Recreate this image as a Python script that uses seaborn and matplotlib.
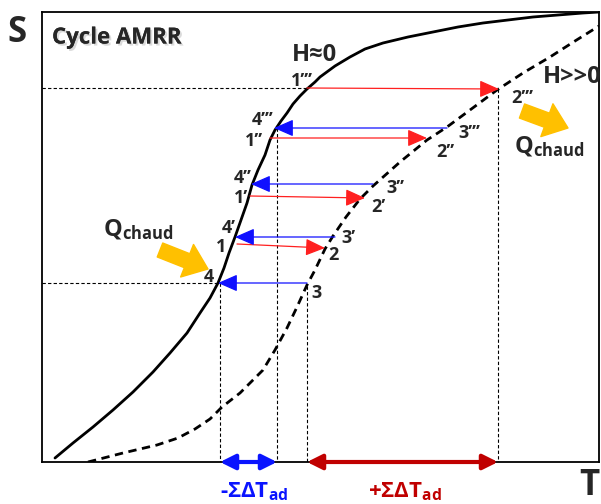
import numpy as np
import pandas as pd
import seaborn as sns
import matplotlib.pyplot as plt
import matplotlib.patheffects as pe

# S-T diagram of the AMRR cycle, coordinates (x=T, y=S, y grows downward)
h0_T = [55, 73, 93, 113, 133, 153, 170, 187, 200, 210, 218, 224, 229, 235, 241, 247, 252, 258,
        265, 270, 275, 281, 287, 293, 300, 307, 315, 320, 335, 350, 365, 383, 408, 433, 458, 483,
        508, 533, 558, 583, 599]
h0_S = [458, 443, 427, 410, 392, 372, 353, 333, 313, 298, 283, 268, 253, 237, 220, 203, 185, 170,
        155, 140, 130, 121, 113, 104, 96, 89, 82, 77, 66, 57, 49, 43, 37, 32, 27, 23,
        20, 17, 15, 13, 12]

hmax_T = [88, 123, 157, 178, 195, 210, 222, 240, 250, 263, 275, 287, 297, 307, 315, 325, 333, 346,
          360, 373, 400, 427, 447, 470, 497, 523, 550, 575, 599]
hmax_S = [462, 453, 445, 438, 429, 419, 407, 393, 383, 370, 350, 328, 307, 285, 270, 249, 236, 217,
          199, 186, 162, 140, 127, 110, 90, 73, 57, 41, 26]

# magnetisation steps 1 -> 2 (red) and demagnetisation steps 3 -> 4 (blue)
mag_T_start = [237, 250, 270, 307]
mag_T_end = [325, 365, 427, 499]
mag_S_start = [244, 196, 138, 88]
mag_S_end = [248, 198, 138, 89]

demag_T_start = [307, 335, 373, 447]
demag_T_end = [218, 235, 251, 274]
demag_S = [283, 237, 184, 128]

# guide lines
guide_T = [220, 277, 307, 498]
guide_S = [283, 128, 286, 89]
hguide_S = [88, 283]
hguide_T = [306, 220]

# sums of adiabatic temperature changes on the T axis
dT_neg = (220, 277)
dT_pos = (307, 498)

# heat flow arrows (tail, tip)
q_left = ((160, 250), (208, 269))
q_right = ((522, 111), (568, 128))

point_labels = {
    "1\u2019\u2019\u2019": (302, 81), "4\u2019\u2019\u2019": (263, 120), "1\u2019\u2019": (254, 141),
    "3\u2019\u2019\u2019": (469, 133), "2\u2019\u2019": (445, 152), "4\u2019\u2019": (243, 178),
    "3\u2019\u2019": (395, 188), "1\u2019": (241, 198), "2\u2019": (378, 207),
    "4\u2019": (229, 228), "3\u2019": (348, 238), "1": (221, 247), "2": (333, 255),
    "4": (209, 277), "3": (317, 293), "2\u2019\u2019\u2019": (522, 98),
}

sns.set_style("white")
plt.rcParams["font.family"] = ["Open Sans", "DejaVu Sans"]
plt.rcParams["mathtext.fontset"] = "custom"
plt.rcParams["mathtext.rm"] = "Open Sans:bold"
plt.rcParams["mathtext.bf"] = "Open Sans:bold"
plt.rcParams["mathtext.it"] = "Open Sans:bold:italic"
plt.rcParams["mathtext.sf"] = "Open Sans:bold"
plt.rcParams["mathtext.fallback"] = "stixsans"

fig = plt.figure(figsize=(6.01, 5.04), dpi=100)
ax = fig.add_axes([42 / 601, 42 / 504, 557 / 601, 450 / 504])
ax.set_xlim(42, 599)
ax.set_ylim(462, 12)
ax.set_xticks([])
ax.set_yticks([])
for sp in ax.spines.values():
    sp.set_color("black")
    sp.set_linewidth(1.3)

df_h0 = pd.DataFrame({"T": h0_T, "S": h0_S})
df_hmax = pd.DataFrame({"T": hmax_T, "S": hmax_S})
sns.lineplot(data=df_h0, x="T", y="S", sort=False, estimator=None, color="black", lw=2, ax=ax)
sns.lineplot(data=df_hmax, x="T", y="S", sort=False, estimator=None, color="black", lw=2, ax=ax)
ax.lines[-1].set_dashes((3, 2))
for ln in ax.lines:
    ln.set_solid_joinstyle("round")
    ln.set_dash_joinstyle("round")
ax.set_xlabel("")
ax.set_ylabel("")

# dashed guides
ax.vlines(guide_T, guide_S, 462, colors="black", linestyles=(0, (3, 2)), lw=0.8)
ax.hlines(hguide_S, 42, hguide_T, colors="black", linestyles=(0, (3, 2)), lw=0.8)

# cycle arrows
for x0, x1, y0, y1 in zip(mag_T_start, mag_T_end, mag_S_start, mag_S_end):
    ax.annotate("", xy=(x1, y1), xytext=(x0, y0),
                arrowprops=dict(arrowstyle="-|>,head_length=0.8,head_width=0.35", color="#ff2020",
                                lw=0.9, shrinkA=0, shrinkB=0, mutation_scale=15))
for x0, x1, y in zip(demag_T_start, demag_T_end, demag_S):
    ax.annotate("", xy=(x1, y), xytext=(x0, y),
                arrowprops=dict(arrowstyle="-|>,head_length=0.8,head_width=0.35", color="#1010ff",
                                lw=0.9, shrinkA=0, shrinkB=0, mutation_scale=15))

# bottom arrows
ax.annotate("", xy=(dT_neg[1], 462), xytext=(dT_neg[0], 462), annotation_clip=False,
            arrowprops=dict(arrowstyle="<|-|>,head_length=0.6,head_width=0.3", color="#0a14ff",
                            lw=3, shrinkA=0, shrinkB=0, mutation_scale=15))
ax.annotate("", xy=(dT_pos[1], 462), xytext=(dT_pos[0], 462), annotation_clip=False,
            arrowprops=dict(arrowstyle="<|-|>,head_length=0.6,head_width=0.3", color="#c00000",
                            lw=3, shrinkA=0, shrinkB=0, mutation_scale=15))

# heat arrows
for tail, tip in (q_left, q_right):
    ax.annotate("", xy=tip, xytext=tail,
                arrowprops=dict(arrowstyle="simple,head_length=0.9,head_width=1.4,tail_width=0.6",
                                color="#ffc000", shrinkA=0, shrinkB=0, mutation_scale=18))

for lab, (x, y) in point_labels.items():
    ax.text(x, y, lab, fontsize=13, fontweight="bold", ha="center", va="center")

ax.text(17, 33, "S", fontsize=25, fontweight="bold", ha="center", va="center")
ax.text(589, 486, "T", fontsize=25, fontweight="bold", ha="center", va="center")
ax.text(52, 38, "Cycle AMRR", fontsize=16, fontweight="bold", ha="left", va="center",
        path_effects=[pe.withSimplePatchShadow(offset=(1.5, -1.5), shadow_rgbFace="#999999", alpha=0.35),
                      pe.Normal()])
ax.text(314, 55, "H\u22480", fontsize=17, fontweight="bold", ha="center", va="center")
ax.text(543, 77, "H>>0", fontsize=17, fontweight="bold", ha="left", va="center")
ax.text(138, 230, r"Q$_{\mathrm{chaud}}$", fontsize=17, fontweight="bold", ha="center", va="center")
ax.text(549, 147, r"Q$_{\mathrm{chaud}}$", fontsize=17, fontweight="bold", ha="center", va="center")
ax.text(254, 503, r"-$\Sigma\Delta$T$_{\mathrm{ad}}$", fontsize=16, fontweight="bold", color="#0a14ff",
        ha="center", va="bottom")
ax.text(405, 503, r"+$\Sigma\Delta$T$_{\mathrm{ad}}$", fontsize=16, fontweight="bold", color="#c00000",
        ha="center", va="bottom")

fig.savefig("out.png", dpi=100)
